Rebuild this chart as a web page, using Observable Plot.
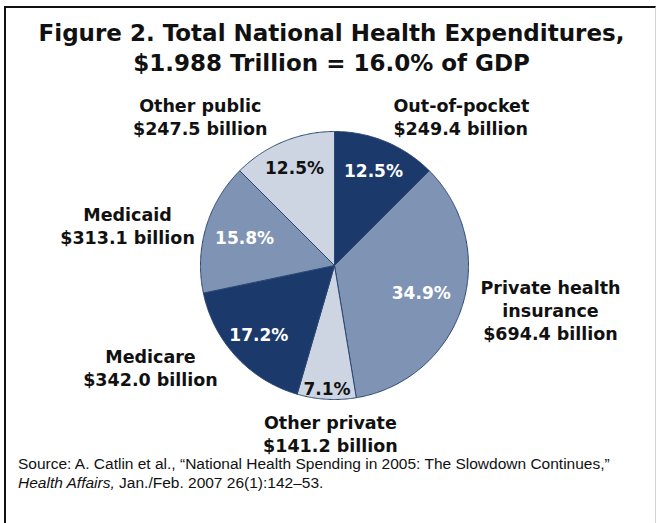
<!DOCTYPE html>
<html>
<head>
<meta charset="utf-8">
<script src="https://cdn.jsdelivr.net/npm/d3@7"></script>
<script src="https://cdn.jsdelivr.net/npm/@observablehq/plot@0.6"></script>
<style>
  html, body { margin: 0; padding: 0; background: #fff; }
  #page { position: relative; width: 657px; height: 523px; overflow: hidden; background: #fff; }
  #frame { position: absolute; left: 4px; top: 6px; width: 652px; height: 540px; box-sizing: border-box;
           border-left: 2px solid #111; border-top: 2px solid #111; border-right: 1px solid #d4d4d4; }
  #title { position: absolute; left: 3px; top: 18px; width: 657px; text-align: center;
           font-family: "DejaVu Sans", sans-serif; font-weight: bold; font-size: 23px; line-height: 30px; color: #111; }
  #chart { position: absolute; left: 0; top: 86px; }
  #source { position: absolute; left: 18px; top: 454px; width: 636px; white-space: nowrap;
            font-family: "Liberation Sans", Arial, sans-serif; font-size: 15.5px; line-height: 19px; color: #111; }
</style>
</head>
<body>
<div id="page">
  <div id="frame"></div>
  <div id="title"></div>
  <div id="chart"></div>
  <div id="source"></div>
</div>
<script>
// ---- data ----
const titleLines = ["Figure 2. Total National Health Expenditures,", "$1.988 Trillion = 16.0% of GDP"];
const categories = ["Out-of-pocket", "Private health insurance", "Other private", "Medicare", "Medicaid", "Other public"];
const displayNames = ["Out-of-pocket", "Private health\ninsurance", "Other private", "Medicare", "Medicaid", "Other public"];
const billions = [249.4, 694.4, 141.2, 342.0, 313.1, 247.5];
const shares = [12.5, 34.9, 7.1, 17.2, 15.8, 12.5];
const sourceLine1 = "Source: A. Catlin et al., \u201cNational Health Spending in 2005: The Slowdown Continues,\u201d";
const sourceJournal = "Health Affairs,";
const sourceRest = " Jan./Feb. 2007 26(1):142\u201353.";

// ---- styles / layout (not data) ----
const shadeOf = ["dark", "medium", "light", "dark", "medium", "light"];
const shadeColors = {dark: "#1b3a6b", medium: "#7f93b4", light: "#cdd5e3"};
const pctTextColor = {dark: "#ffffff", medium: "#ffffff", light: "#111111"};
const innerRadius = [0.76, 0.68, 0.93, 0.77, 0.70, 0.78];
// outer label anchor: [angle deg clockwise from 12 o'clock, radius in pie radii, text anchor]
const outerLabelPolar = [[21.5, 1.20, "start"], [101.5, 1.645, "middle"], [181.4, 1.25, "middle"],
                         [241, 1.57, "middle"], [281.1, 1.574, "middle"], [318.1, 1.50, "middle"]];

// ---- header / footer ----
document.getElementById("title").innerHTML = titleLines.join("<br>");
const src = document.getElementById("source");
src.appendChild(document.createTextNode(sourceLine1));
src.appendChild(document.createElement("br"));
const it = document.createElement("i"); it.textContent = sourceJournal; src.appendChild(it);
src.appendChild(document.createTextNode(sourceRest));

// ---- pie geometry from shares ----
const total = d3.sum(shares);
const toRad = d => d * Math.PI / 180;
const polar = (deg, r) => ({x: r * Math.sin(toRad(deg)), y: r * Math.cos(toRad(deg))});
let acc = 0;
const slices = categories.map((c, i) => {
  const a0 = acc / total * 360; acc += shares[i]; const a1 = acc / total * 360;
  return {i, category: c, a0, a1, mid: (a0 + a1) / 2, shade: shadeOf[i]};
});
const slicePoints = slices.map(s => {
  const pts = [{x: 0, y: 0}];
  const n = Math.max(2, Math.ceil((s.a1 - s.a0) / 0.5));
  for (let k = 0; k <= n; k++) pts.push(polar(s.a0 + (s.a1 - s.a0) * k / n, 1));
  pts.push({x: 0, y: 0});
  return pts;
});

const pctLabels = slices.map(s => ({...polar(s.mid, innerRadius[s.i]), text: shares[s.i].toFixed(1) + "%", color: pctTextColor[s.shade]}));
const outerLabels = slices.map(s => {
  const [ang, r, anchor] = outerLabelPolar[s.i];
  return {...polar(ang, r), text: displayNames[s.i] + "\n$" + billions[s.i].toFixed(1) + " billion", anchor};
});

const cx = 334, cy = 179, R = 134;
const marks = [];
slices.forEach((s, i) => {
  marks.push(Plot.line(slicePoints[i], {x: "x", y: "y", fill: shadeColors[s.shade], stroke: "#2a4672", strokeWidth: 1, strokeLinejoin: "round", curve: "linear"}));
});
marks.push(Plot.text(pctLabels, {x: "x", y: "y", text: "text", fill: "color", fontFamily: "DejaVu Sans", fontWeight: "bold", fontSize: 17}));
["start", "middle"].forEach(a => {
  marks.push(Plot.text(outerLabels.filter(d => d.anchor === a), {x: "x", y: "y", text: "text", textAnchor: a, lineAnchor: "middle", lineHeight: 1.32,
    fill: "#111", fontFamily: "DejaVu Sans", fontWeight: "bold", fontSize: 17.5}));
});

const chart = Plot.plot({
  width: 657, height: 372, margin: 0,
  x: {domain: [-1, 1], range: [cx - R, cx + R], axis: null},
  y: {domain: [-1, 1], range: [cy + R, cy - R], axis: null},
  color: {type: "identity"},
  style: {background: "transparent", overflow: "visible"},
  marks
});
document.getElementById("chart").appendChild(chart);
</script>
</body>
</html>
